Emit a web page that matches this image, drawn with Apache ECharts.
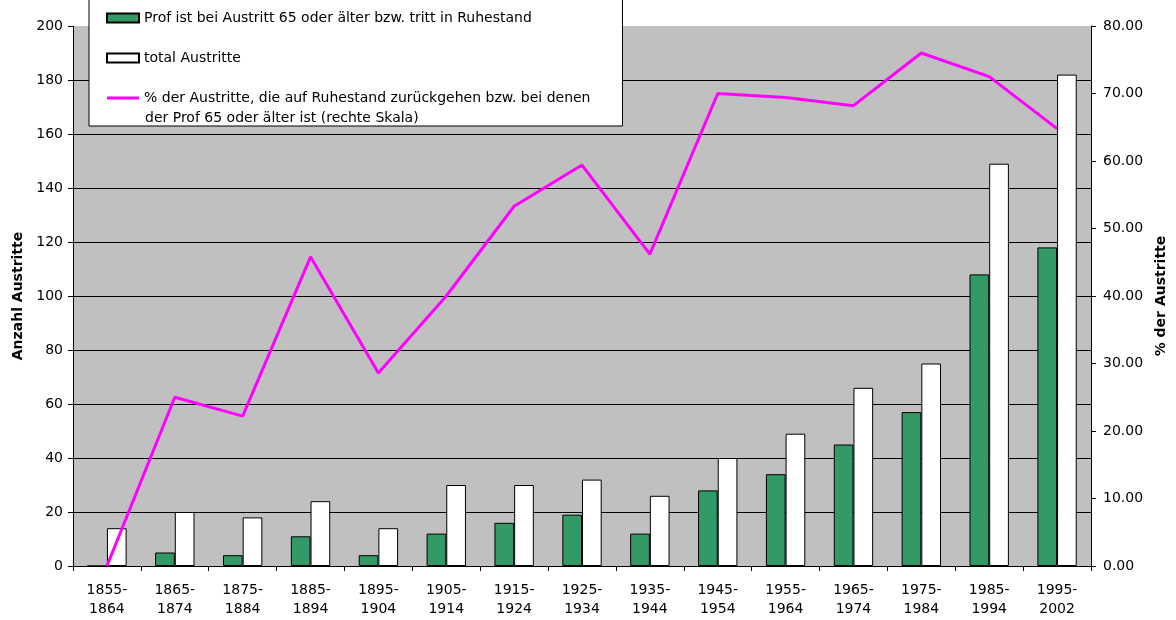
<!DOCTYPE html>
<html>
<head>
<meta charset="utf-8">
<script src="https://cdn.jsdelivr.net/npm/echarts@6/dist/echarts.min.js"></script>
<style>
  html, body { margin: 0; padding: 0; background: #fff; }
  #chart { width: 1176px; height: 620px; }
</style>
</head>
<body>
<div id="chart"></div>
<script>
const categories = [
  '1855-\n1864', '1865-\n1874', '1875-\n1884', '1885-\n1894', '1895-\n1904',
  '1905-\n1914', '1915-\n1924', '1925-\n1934', '1935-\n1944', '1945-\n1954',
  '1955-\n1964', '1965-\n1974', '1975-\n1984', '1985-\n1994', '1995-\n2002'
]
const retired = [0, 5, 4, 11, 4, 12, 16, 19, 12, 28, 34, 45, 57, 108, 118]
const totalExits = [14, 20, 18, 24, 14, 30, 30, 32, 26, 40, 49, 66, 75, 149, 182]
const retiredShare = [0, 25, 22.2, 45.8, 28.6, 40, 53.3, 59.4, 46.2, 70, 69.4, 68.2, 76, 72.5, 64.8]

const names = {
  retired: 'Prof ist bei Austritt 65 oder älter bzw. tritt in Ruhestand',
  total: 'total Austritte',
  share: '% der Austritte, die auf Ruhestand zurückgehen bzw. bei denen',
  shareLine2: 'der Prof 65 oder älter ist (rechte Skala)'
}

// the source looks like Arial stretched sideways; DejaVu Sans at 14px has about the same box
const font = '"DejaVu Sans", "Liberation Sans", Arial, sans-serif'
const colors = {
  plotBg: '#C0C0C0',
  green: '#339966',
  line: '#FF00FF',
  ink: '#000000'
}

// no gridline drawn at the top (200), like the source
const gridColors = Array(10).fill(colors.ink).concat(['rgba(0,0,0,0)'])

const chart = echarts.init(document.getElementById('chart'))

chart.setOption({
  animation: false,
  textStyle: { fontFamily: font, color: colors.ink },
  grid: {
    left: 73, right: 85, top: 26, bottom: 54,
    show: true,
    backgroundColor: colors.plotBg,
    borderWidth: 0
  },
  legend: {
    orient: 'vertical',
    left: 89,
    top: -3,
    padding: [11.5, 32, 18.5, 17],
    itemGap: 21,
    itemWidth: 32,
    itemHeight: 9,
    backgroundColor: '#fff',
    borderColor: colors.ink,
    borderWidth: 1,
    textStyle: { fontSize: 14, lineHeight: 19, color: colors.ink, fontFamily: font },
    data: [
      { name: names.retired, icon: 'rect' },
      { name: names.total, icon: 'rect' },
      { name: names.share, icon: 'path://M0,0H32V3H0Z', itemStyle: { color: colors.line } }
    ]
  },
  graphic: [{
    type: 'text',
    x: 145,
    y: 118,
    z: 100,
    style: {
      text: names.shareLine2,
      font: '14px ' + font,
      fill: colors.ink,
      verticalAlign: 'middle'
    }
  }],
  xAxis: {
    type: 'category',
    data: categories,
    axisLine: { lineStyle: { color: colors.ink, width: 1 } },
    axisTick: { show: true, length: 5, lineStyle: { color: colors.ink } },
    axisLabel: { fontSize: 14, lineHeight: 19, margin: 15, color: colors.ink, interval: 0 }
  },
  yAxis: [{
    type: 'value',
    min: 0, max: 200, interval: 20,
    name: 'Anzahl Austritte',
    nameLocation: 'middle',
    nameRotate: 90,
    nameGap: 47,
    nameTextStyle: { fontSize: 14, fontWeight: 'bold', color: colors.ink },
    axisLine: { show: true, lineStyle: { color: colors.ink } },
    axisTick: { show: true, length: 5, lineStyle: { color: colors.ink } },
    axisLabel: { fontSize: 14, margin: 10, color: colors.ink },
    splitLine: { lineStyle: { color: gridColors, width: 1 } }
  }, {
    type: 'value',
    min: 0, max: 80, interval: 10,
    position: 'right',
    name: '% der Austritte',
    nameLocation: 'middle',
    nameRotate: 90,
    nameGap: 62,
    nameTextStyle: { fontSize: 14, fontWeight: 'bold', color: colors.ink },
    axisLine: { show: true, lineStyle: { color: colors.ink } },
    axisTick: { show: true, length: 5, lineStyle: { color: colors.ink } },
    axisLabel: {
      fontSize: 14, margin: 12, color: colors.ink,
      formatter: (v) => v.toFixed(2)
    },
    splitLine: { show: false }
  }],
  series: [{
    name: names.retired,
    type: 'bar',
    data: retired,
    barGap: '0%',
    barCategoryGap: '42%',
    itemStyle: { color: colors.green, borderColor: colors.ink, borderWidth: 1 }
  }, {
    name: names.total,
    type: 'bar',
    data: totalExits,
    itemStyle: { color: '#FFFFFF', borderColor: colors.ink, borderWidth: 1 }
  }, {
    name: names.share,
    type: 'line',
    yAxisIndex: 1,
    data: retiredShare,
    symbol: 'none',
    lineStyle: { color: colors.line, width: 3 },
    itemStyle: { color: colors.line },
    z: 5
  }]
})
</script>
</body>
</html>
